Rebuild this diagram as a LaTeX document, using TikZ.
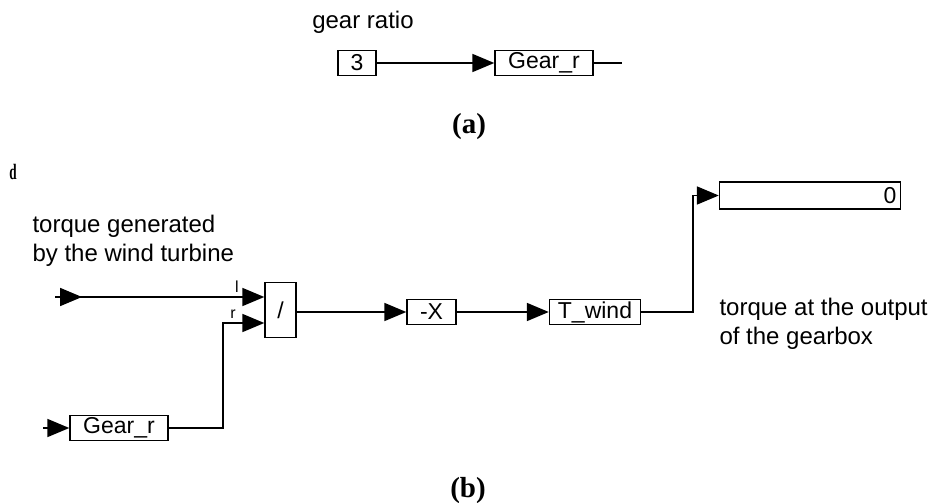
\documentclass[tikz,border=0pt]{standalone}
\usepackage{fontspec}
\setmainfont{Liberation Sans}
\newfontfamily\serifb{Liberation Serif}
\usetikzlibrary{arrows.meta}
\begin{document}
\begin{tikzpicture}[x=1pt,y=-1pt,
 blk/.style={draw, line width=1.4pt, minimum height=25pt, inner sep=0pt, font=\fontsize{23}{25}\selectfont},
 wire/.style={line width=1.8pt},
 arr/.style={wire, -{Triangle[length=22pt,width=18pt]}},
 lbl/.style={font=\fontsize{24}{29}\selectfont, align=left},
 tiny/.style={font=\fontsize{16}{16}\selectfont, inner sep=0pt},
 captxt/.style={font=\serifb\bfseries\fontsize{29}{32}\selectfont}]
\useasboundingbox (0,0) rectangle (932,503);
% (a)
\node[lbl] (gr) at (363,22) {gear ratio};
\node[blk, minimum width=38pt] (three) at (357,63) {3};
\node[blk, minimum width=98pt] (gra) at (544,63) {Gear\_r};
\coordinate (gaout) at (622,63);
\draw[arr] (three) -- (gra);
\draw[wire] (gra) -- (gaout);
\node[captxt] (capa) at (469,127) {(a)};
% (b)
\node[font=\serifb\bfseries\fontsize{22}{22}\selectfont, inner sep=0pt] (dmark) at (13,172) {\scalebox{0.6}[1]{d}};
\node[lbl, anchor=west] (tin) at (29,241) {torque generated\\by the wind turbine};
\node[blk, minimum width=31pt, minimum height=55pt] (div) at (280.5,310) {/};
\coordinate (lin) at (55,297);
\draw[arr] (lin) -- ++(27,0);
\draw[arr] (lin) -- (div.west |- lin);
\node[tiny] (llab) at (237,287) {l};
\node[blk, minimum width=98pt] (grb) at (119,428) {Gear\_r};
\coordinate (rin) at (43,428);
\draw[arr] (rin) -- (grb);
\coordinate (rbend) at (223,323);
\draw[arr] (grb.east) -| (rbend) -- (div.west |- rbend);
\node[tiny] (rlab) at (233,314) {r};
\node[blk, minimum width=49pt] (negx) at (431.5,312) {-X};
\draw[arr] (div.east |- negx.west) -- (negx);
\node[blk, minimum width=91pt] (tw) at (595,312) {T\_wind};
\draw[arr] (negx) -- (tw);
\node[blk, minimum width=181pt, minimum height=27pt, text width=173pt, align=right] (disp) at (810,195.5) {0};
\coordinate (vx) at (693,312);
\draw[arr] (tw) -- (vx) |- (disp);
\node[lbl, anchor=west] (tout) at (716,324) {torque at the output\\of the gearbox};
\node[captxt] (capb) at (468,491) {(b)};
\end{tikzpicture}
\end{document}
